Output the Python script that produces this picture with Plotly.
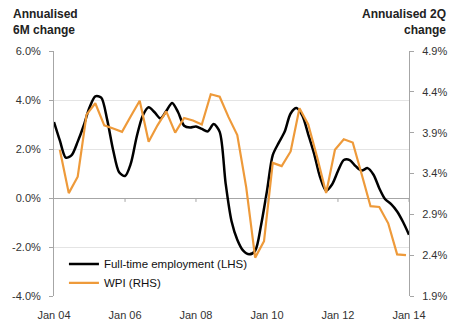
import plotly.graph_objects as go

# Full-time employment, annualised 6M change (LHS), bi-monthly readings Jan 04 - Jan 14
emp_dates = [f"{2004 + i // 6}-{(i % 6) * 2 + 1:02d}-01" for i in range(61)]
emp_values = [
    3.1, 2.35, 1.65, 1.75, 2.3, 2.95,
    3.7, 4.15, 4.1, 3.2, 1.95, 1.05,
    0.9, 1.4, 2.5, 3.35, 3.7, 3.5,
    3.25, 3.55, 3.88, 3.5, 2.95, 2.88,
    2.92, 2.82, 2.72, 3.02, 2.7, 0.6,
    -0.95, -1.7, -2.15, -2.3, -2.15, -1.1,
    0.3, 1.75, 2.25, 2.7, 3.45, 3.67,
    3.35, 2.6, 1.8, 0.85, 0.3, 0.55,
    1.1, 1.55, 1.55, 1.3, 1.12, 1.22,
    0.95, 0.4, -0.05, -0.25, -0.55, -0.98,
    -1.5,
]

# WPI, annualised 2Q change (RHS), quarterly Mar 04 - Dec 13
wpi_dates = [f"{2004 + i // 4}-{(i % 4) * 3 + 3:02d}-01" for i in range(40)]
wpi_values = [
    3.69, 3.16, 3.36, 4.12,
    4.26, 3.99, 3.95, 3.91,
    4.10, 4.29, 3.79, 3.99,
    4.16, 3.90, 4.08, 4.05,
    4.00, 4.37, 4.34, 4.09,
    3.87, 3.23, 2.37, 2.57,
    3.53, 3.49, 3.67, 4.20,
    4.00, 3.60, 3.16, 3.69,
    3.82, 3.78, 3.39, 3.00,
    2.99, 2.79, 2.41, 2.40,
]

left_ticks = [-4, -2, 0, 2, 4, 6]
right_ticks = [1.9, 2.4, 2.9, 3.4, 3.9, 4.4, 4.9]
x_tick_dates = ["2004-01-01", "2006-01-01", "2008-01-01", "2010-01-01", "2012-01-01", "2014-01-01"]
x_tick_labels = ["Jan 04", "Jan 06", "Jan 08", "Jan 10", "Jan 12", "Jan 14"]

FONT = "Liberation Sans"
TXT = "#333333"
AXIS = "#a6a6a6"
GRID = "#e4e4e4"

fig = go.Figure()
fig.add_trace(go.Scatter(
    x=emp_dates, y=emp_values, name="Full-time employment (LHS)",
    mode="lines", line=dict(color="#000000", width=2.5, shape="spline", smoothing=0.8),
    yaxis="y",
))
fig.add_trace(go.Scatter(
    x=wpi_dates, y=wpi_values, name="WPI (RHS)",
    mode="lines", line=dict(color="#EE9A3A", width=2.2),
    yaxis="y2",
))

# small tick marks hanging from the zero line
for d in x_tick_dates[1:]:
    fig.add_shape(type="line", xref="x", yref="y", x0=d, x1=d, y0=0, y1=-0.16,
                  line=dict(color=AXIS, width=1))

fig.update_layout(
    width=459, height=336,
    margin=dict(l=51, r=49, t=51, b=40),
    paper_bgcolor="white", plot_bgcolor="white",
    font=dict(family=FONT, size=11, color=TXT),
    showlegend=True,
    legend=dict(x=0.028, y=0.19, xanchor="left", yanchor="top",
                bgcolor="rgba(0,0,0,0)", font=dict(family=FONT, size=11.5, color="#111111"),
                tracegroupgap=0, itemwidth=30),
    xaxis=dict(
        type="date", range=["2004-01-01", "2014-01-01"],
        tickvals=x_tick_dates, ticktext=x_tick_labels,
        showgrid=False, showline=False, zeroline=False,
        ticks="outside", ticklen=9, tickcolor="rgba(0,0,0,0)",
        tickfont=dict(family=FONT, size=11, color=TXT),
    ),
    yaxis=dict(
        range=[-4, 6], tickvals=left_ticks,
        ticktext=[f"{v:.1f}%" for v in left_ticks],
        showgrid=True, gridcolor=GRID, gridwidth=1,
        zeroline=True, zerolinecolor=AXIS, zerolinewidth=1.2,
        showline=True, linecolor=AXIS, linewidth=1,
        ticks="outside", ticklen=4, tickcolor=AXIS, ticklabelstandoff=6,
        tickfont=dict(family=FONT, size=11, color=TXT),
    ),
    yaxis2=dict(
        range=[1.9, 4.9], tickvals=right_ticks,
        ticktext=[f"{v:.1f}%" for v in right_ticks],
        overlaying="y", side="right", showgrid=False, zeroline=False,
        showline=True, linecolor=AXIS, linewidth=1,
        ticks="outside", ticklen=4, tickcolor=AXIS, ticklabelstandoff=6,
        tickfont=dict(family=FONT, size=11, color=TXT),
    ),
    annotations=[
        dict(text="<b>Annualised<br>6M change</b>", xref="paper", yref="paper",
             x=-43 / 359, y=1 + 46 / 245, xanchor="left", yanchor="top", align="left",
             showarrow=False, font=dict(family=FONT, size=12, color="#222222")),
        dict(text="<b>Annualised 2Q<br>change</b>", xref="paper", yref="paper",
             x=1 + 39 / 359, y=1 + 46 / 245, xanchor="right", yanchor="top", align="right",
             showarrow=False, font=dict(family=FONT, size=12, color="#222222")),
    ],
)

fig.write_html("out.html")
